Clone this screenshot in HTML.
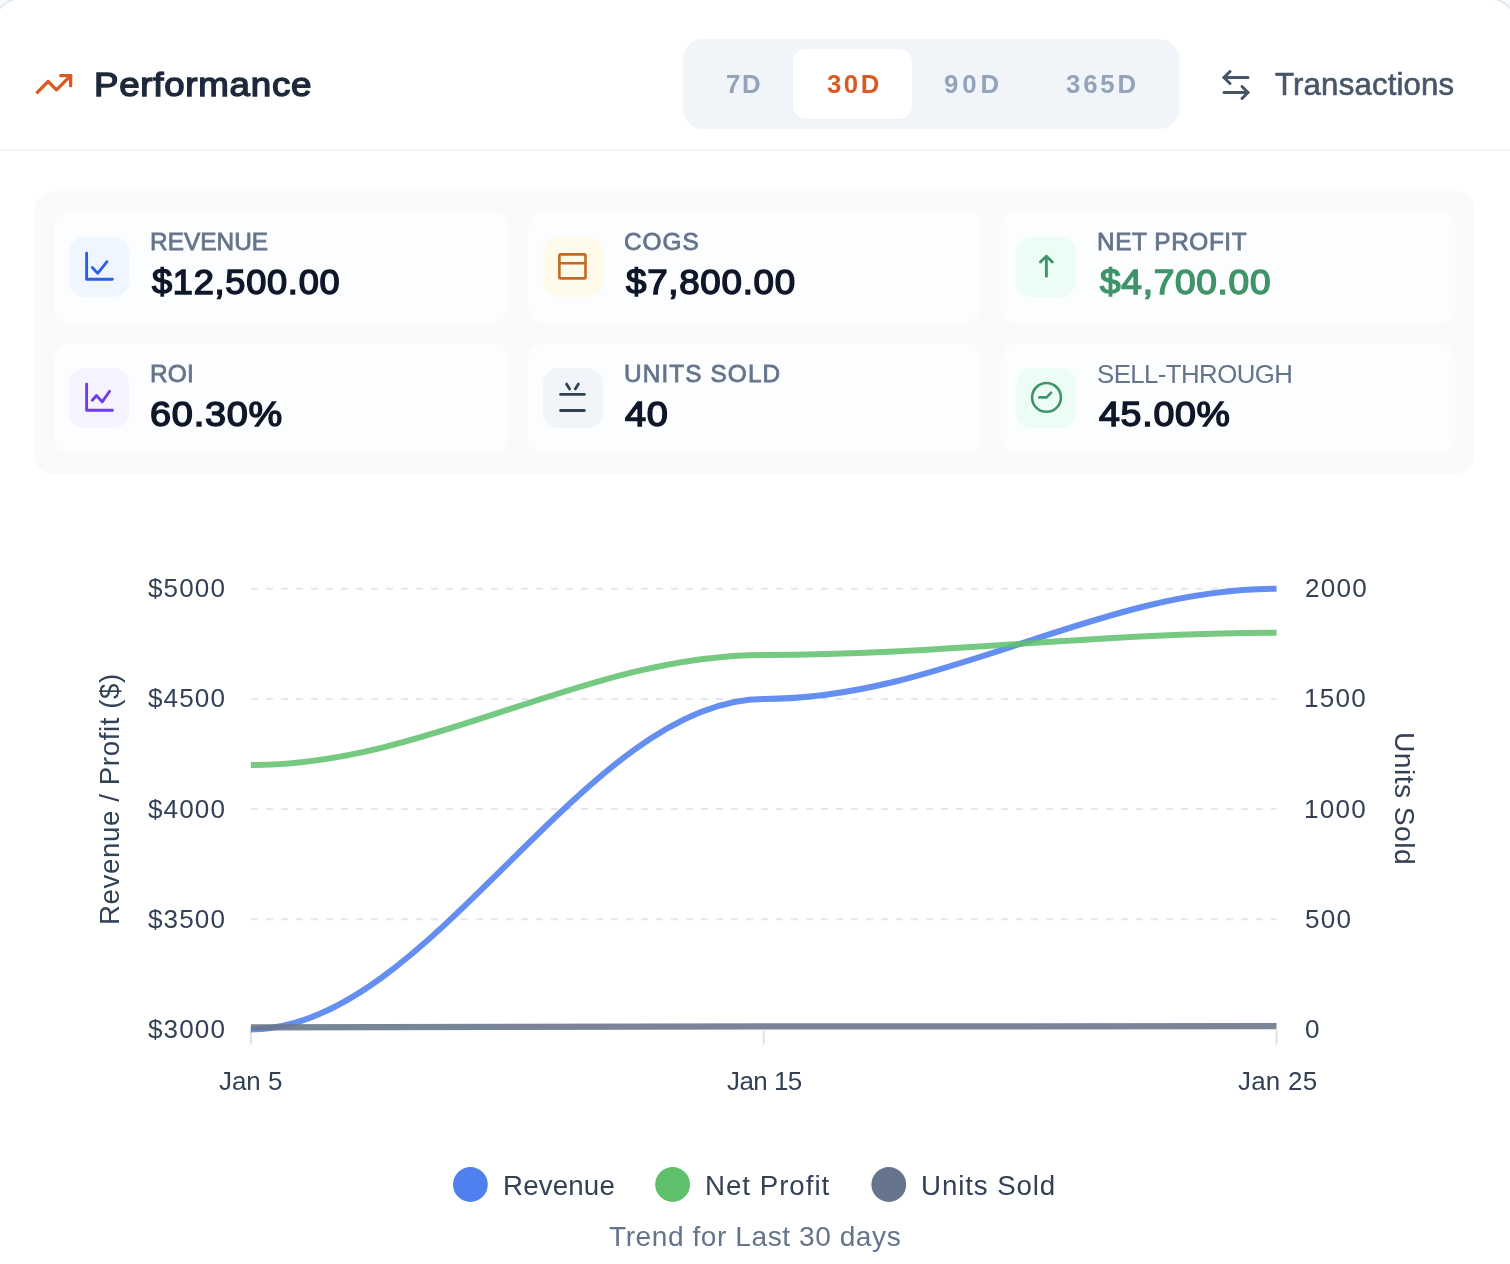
<!DOCTYPE html>
<html><head><meta charset="utf-8"><title>Performance</title><style>
*{box-sizing:border-box;margin:0;padding:0}
html,body{width:1510px;height:1264px;overflow:hidden;background:#f8fafc}
body{position:relative;font-family:"Liberation Sans", sans-serif}
.a{position:absolute}
.t{position:absolute;white-space:nowrap;font-family:"Liberation Sans", sans-serif;will-change:transform}
</style></head><body>
<div class="a" style="left:-9.5px;top:-3px;width:1528px;height:1400px;background:#fff;border:2px solid #e2e8f0;border-radius:32px"></div>
<div class="a" style="left:0;top:149px;width:1510px;height:2px;background:#f1f5f9"></div>
<div class="a" style="left:683px;top:39px;width:496px;height:90px;background:#f1f5f9;border-radius:20px"></div>
<div class="a" style="left:793px;top:49px;width:119px;height:70px;background:#fff;border-radius:13px;box-shadow:0 1px 2px rgba(15,23,42,0.025)"></div>
<svg class="a" style="left:34.3px;top:64.2px" width="40" height="40" viewBox="0 0 24 24" fill="none" stroke="#d95b24" stroke-width="2" stroke-linecap="round" stroke-linejoin="round"><polyline points="22 7 13.5 15.5 8.5 10.5 2 17"/><polyline points="16 7 22 7 22 13"/></svg>
<svg class="a" style="left:1218.3px;top:66.5px" width="36" height="36" viewBox="0 0 24 24" fill="none" stroke="#475569" stroke-width="2" stroke-linecap="round" stroke-linejoin="round"><path d="M8 3 4 7l4 4"/><path d="M4 7h16"/><path d="m16 21 4-4-4-4"/><path d="M20 17H4"/></svg>
<div class="a" style="left:34px;top:191px;width:1441px;height:283px;background:#f8fafc;border-radius:20px"></div>
<div class="a" style="left:54px;top:211px;width:453.67px;height:111.5px;background:#fcfdfe;border-radius:16px"></div>
<div class="a" style="left:69px;top:236.75px;width:60px;height:60px;background:#eff6ff;border-radius:16px"></div>
<svg class="a" style="left:69px;top:236.75px" width="60" height="60" viewBox="0 0 60 60" fill="none" stroke="#2c5fe6" stroke-width="2.85" stroke-linecap="round" stroke-linejoin="round"><path d="M17.6 16.1V42.2H43.4"/><path d="M23.3 30.6 28.7 36.3 38 24.7"/></svg>
<div class="a" style="left:527.67px;top:211px;width:453.67px;height:111.5px;background:#fcfdfe;border-radius:16px"></div>
<div class="a" style="left:542.67px;top:236.75px;width:60px;height:60px;background:#fffbeb;border-radius:16px"></div>
<svg class="a" style="left:542.67px;top:236.75px" width="60" height="60" viewBox="0 0 60 60" fill="none" stroke="#c46a22" stroke-width="2.6" stroke-linecap="round" stroke-linejoin="round"><rect x="16.4" y="17.4" width="26.1" height="24" rx="1.2"/><path d="M16.4 26.3H42.5"/></svg>
<div class="a" style="left:1001.33px;top:211px;width:453.67px;height:111.5px;background:#fcfdfe;border-radius:16px"></div>
<div class="a" style="left:1016.33px;top:236.75px;width:60px;height:60px;background:#ecfdf5;border-radius:16px"></div>
<svg class="a" style="left:1016.33px;top:236.75px" width="60" height="60" viewBox="0 0 60 60" fill="none" stroke="#409469" stroke-width="2.85" stroke-linecap="round" stroke-linejoin="round"><path d="M30.4 39.3V19.6"/><path d="M24.4 25 30.4 19.2 36.3 25"/></svg>
<div class="a" style="left:54px;top:342.5px;width:453.67px;height:111.5px;background:#fcfdfe;border-radius:16px"></div>
<div class="a" style="left:69px;top:368.25px;width:60px;height:60px;background:#f5f3ff;border-radius:16px"></div>
<svg class="a" style="left:69px;top:368.25px" width="60" height="60" viewBox="0 0 60 60" fill="none" stroke="#6f3de8" stroke-width="2.85" stroke-linecap="round" stroke-linejoin="round"><path d="M17.6 16.1V42.2H43.4"/><path d="M23.3 32.3 27.5 27.5 33.2 33.9 40.6 23.3"/></svg>
<div class="a" style="left:527.67px;top:342.5px;width:453.67px;height:111.5px;background:#fcfdfe;border-radius:16px"></div>
<div class="a" style="left:542.67px;top:368.25px;width:60px;height:60px;background:#f1f5f9;border-radius:16px"></div>
<svg class="a" style="left:542.67px;top:368.25px" width="60" height="60" viewBox="0 0 60 60" fill="none" stroke="#334155" stroke-width="2.85" stroke-linecap="round" stroke-linejoin="round"><path d="M17.6 26.4H41.3"/><path d="M17.6 42.5H41.3"/><path d="M23.5 16.1 26.6 20.9"/><path d="M35.4 16.1 32.3 20.9"/></svg>
<div class="a" style="left:1001.33px;top:342.5px;width:453.67px;height:111.5px;background:#fcfdfe;border-radius:16px"></div>
<div class="a" style="left:1016.33px;top:368.25px;width:60px;height:60px;background:#ecfdf5;border-radius:16px"></div>
<svg class="a" style="left:1016.33px;top:368.25px" width="60" height="60" viewBox="0 0 60 60" fill="none" stroke="#409469" stroke-width="2.6" stroke-linecap="round" stroke-linejoin="round"><circle cx="30.5" cy="29.4" r="14.4"/><path d="M23.3 29.4H30.6L35.1 24.7"/></svg>
<svg class="a" style="left:0;top:0" width="1510" height="1264" viewBox="0 0 1510 1264" fill="none"><line x1="251" y1="588.8" x2="1276.5" y2="588.8" stroke="#e2e8f0" stroke-width="2" stroke-dasharray="7 8"/><line x1="251" y1="698.95" x2="1276.5" y2="698.95" stroke="#e2e8f0" stroke-width="2" stroke-dasharray="7 8"/><line x1="251" y1="809.1" x2="1276.5" y2="809.1" stroke="#e2e8f0" stroke-width="2" stroke-dasharray="7 8"/><line x1="251" y1="919.25" x2="1276.5" y2="919.25" stroke="#e2e8f0" stroke-width="2" stroke-dasharray="7 8"/><line x1="250.85" y1="1030.5" x2="250.85" y2="1044.5" stroke="#e0e0e0" stroke-width="2"/><line x1="763.7" y1="1030.5" x2="763.7" y2="1044.5" stroke="#e0e0e0" stroke-width="2"/><line x1="1276.55" y1="1030.5" x2="1276.55" y2="1044.5" stroke="#e0e0e0" stroke-width="2"/><path d="M250.85 1029.4 C430.35 1029.4 584.2 698.95 763.7 698.95 C943.2 698.95 1097.05 588.8 1276.55 588.8" stroke="#4f80ee" stroke-opacity="0.88" stroke-width="6"/><path d="M250.85 765.04 C430.35 765.04 584.2 654.89 763.7 654.89 C943.2 654.89 1097.05 632.86 1276.55 632.86" stroke="#5ec06a" stroke-opacity="0.85" stroke-width="6"/><path d="M250.85 1027.42 C430.35 1027.42 584.2 1026.43 763.7 1026.43 C943.2 1026.43 1097.05 1026.21 1276.55 1026.21" stroke="#6b778c" stroke-opacity="0.9" stroke-width="6.2"/><circle cx="470.4" cy="1184.5" r="17.4" fill="#4f80ee"/><circle cx="672.6" cy="1184.5" r="17.4" fill="#5ec06a"/><circle cx="888.8" cy="1184.5" r="17.4" fill="#67748d"/></svg>
<div class="t" id="tperf" style="left:94.22px;top:67.8px;font-size:33.7px;line-height:33.7px;font-weight:400;-webkit-text-stroke:1.42px #1e293b;letter-spacing:0.67px;color:#1e293b;transform-origin:0 0;transform:scaleX(1.0893)">Performance</div>
<div class="t" id="t7d" style="left:725.5px;top:72px;font-size:25.8px;line-height:25.8px;font-weight:700;letter-spacing:1.7px;color:#94a3b8">7D</div>
<div class="t" id="t30d" style="left:826.7px;top:72px;font-size:25.8px;line-height:25.8px;font-weight:700;letter-spacing:2.5px;color:#d95b24">30D</div>
<div class="t" id="t90d" style="left:944px;top:72px;font-size:25.8px;line-height:25.8px;font-weight:700;letter-spacing:3.9px;color:#94a3b8">90D</div>
<div class="t" id="t365d" style="left:1065.6px;top:72px;font-size:25.8px;line-height:25.8px;font-weight:700;letter-spacing:2.83px;color:#94a3b8">365D</div>
<div class="t" id="ttrans" style="left:1275px;top:68.7px;font-size:31.16px;line-height:31.16px;font-weight:400;-webkit-text-stroke:0.6px #475569;letter-spacing:0.18px;color:#475569">Transactions</div>
<div class="t" id="tl0" style="left:150px;top:230.3px;font-size:24.38px;line-height:24.38px;font-weight:400;-webkit-text-stroke:0.78px #64748b;letter-spacing:0.03px;color:#64748b">REVENUE</div>
<div class="t" id="tv0" style="left:152.35px;top:265.4px;font-size:34.52px;line-height:34.52px;font-weight:400;-webkit-text-stroke:1.45px #0f172a;letter-spacing:0.69px;color:#0f172a;transform-origin:0 0;transform:scaleX(1.0483)">$12,500.00</div>
<div class="t" id="tl1" style="left:623.67px;top:230.3px;font-size:24.38px;line-height:24.38px;font-weight:400;-webkit-text-stroke:0.78px #64748b;letter-spacing:1px;color:#64748b">COGS</div>
<div class="t" id="tv1" style="left:626.03px;top:265.4px;font-size:34.52px;line-height:34.52px;font-weight:400;-webkit-text-stroke:1.45px #0f172a;letter-spacing:0.69px;color:#0f172a;transform-origin:0 0;transform:scaleX(1.0631)">$7,800.00</div>
<div class="t" id="tl2" style="left:1097.33px;top:230.3px;font-size:24.38px;line-height:24.38px;font-weight:400;-webkit-text-stroke:0.78px #64748b;letter-spacing:0.57px;color:#64748b">NET PROFIT</div>
<div class="t" id="tv2" style="left:1099.7px;top:265.4px;font-size:34.52px;line-height:34.52px;font-weight:400;-webkit-text-stroke:1.45px #3f9468;letter-spacing:0.69px;color:#3f9468;transform-origin:0 0;transform:scaleX(1.0719)">$4,700.00</div>
<div class="t" id="tl3" style="left:150px;top:361.8px;font-size:24.38px;line-height:24.38px;font-weight:400;-webkit-text-stroke:0.78px #64748b;letter-spacing:0.2px;color:#64748b">ROI</div>
<div class="t" id="tv3" style="left:150.2px;top:396.9px;font-size:34.52px;line-height:34.52px;font-weight:400;-webkit-text-stroke:1.45px #0f172a;letter-spacing:0.69px;color:#0f172a;transform-origin:0 0;transform:scaleX(1.0975)">60.30%</div>
<div class="t" id="tl4" style="left:623.67px;top:361.8px;font-size:24.38px;line-height:24.38px;font-weight:400;-webkit-text-stroke:0.78px #64748b;letter-spacing:1.1px;color:#64748b">UNITS SOLD</div>
<div class="t" id="tv4" style="left:624.97px;top:396.9px;font-size:34.52px;line-height:34.52px;font-weight:400;-webkit-text-stroke:1.45px #0f172a;letter-spacing:0.69px;color:#0f172a;transform-origin:0 0;transform:scaleX(1.1)">40</div>
<div class="t" id="tl5" style="left:1097.33px;top:361.8px;font-size:25.8px;line-height:25.8px;font-weight:400;letter-spacing:-0.57px;color:#64748b">SELL-THROUGH</div>
<div class="t" id="tv5" style="left:1098.63px;top:396.9px;font-size:34.52px;line-height:34.52px;font-weight:400;-webkit-text-stroke:1.45px #0f172a;letter-spacing:0.69px;color:#0f172a;transform-origin:0 0;transform:scaleX(1.0867)">45.00%</div>
<div class="t" id="ty0" style="left:148.3px;top:575.2px;font-size:26.09px;line-height:26.09px;font-weight:400;letter-spacing:1.1px;color:#334155">$5000</div>
<div class="t" id="tr0" style="left:1304.9px;top:575.2px;font-size:26.09px;line-height:26.09px;font-weight:400;letter-spacing:1.23px;color:#334155">2000</div>
<div class="t" id="ty1" style="left:148.3px;top:685.35px;font-size:26.09px;line-height:26.09px;font-weight:400;letter-spacing:1.1px;color:#334155">$4500</div>
<div class="t" id="tr1" style="left:1303.9px;top:685.35px;font-size:26.09px;line-height:26.09px;font-weight:400;letter-spacing:1.23px;color:#334155">1500</div>
<div class="t" id="ty2" style="left:148.3px;top:795.5px;font-size:26.09px;line-height:26.09px;font-weight:400;letter-spacing:1.1px;color:#334155">$4000</div>
<div class="t" id="tr2" style="left:1303.9px;top:795.5px;font-size:26.09px;line-height:26.09px;font-weight:400;letter-spacing:1.23px;color:#334155">1000</div>
<div class="t" id="ty3" style="left:148.3px;top:905.65px;font-size:26.09px;line-height:26.09px;font-weight:400;letter-spacing:1.1px;color:#334155">$3500</div>
<div class="t" id="tr3" style="left:1304.9px;top:905.65px;font-size:26.09px;line-height:26.09px;font-weight:400;letter-spacing:1.23px;color:#334155">500</div>
<div class="t" id="ty4" style="left:148.3px;top:1015.8px;font-size:26.09px;line-height:26.09px;font-weight:400;letter-spacing:1.1px;color:#334155">$3000</div>
<div class="t" id="tr4" style="left:1304.9px;top:1015.8px;font-size:26.09px;line-height:26.09px;font-weight:400;letter-spacing:1.23px;color:#334155">0</div>
<div class="t" id="tx0" style="left:219.35px;top:1069.1px;font-size:25.94px;line-height:25.94px;font-weight:400;letter-spacing:-0.03px;color:#334155">Jan 5</div>
<div class="t" id="tx1" style="left:726.7px;top:1069.1px;font-size:25.94px;line-height:25.94px;font-weight:400;letter-spacing:-0.52px;color:#334155">Jan 15</div>
<div class="t" id="tx2" style="left:1237.55px;top:1069.1px;font-size:25.94px;line-height:25.94px;font-weight:400;letter-spacing:0.24px;color:#334155">Jan 25</div>
<div class="t" id="tleg0" style="left:502.8px;top:1171.9px;font-size:27.68px;line-height:27.68px;font-weight:400;letter-spacing:0.17px;color:#334155">Revenue</div>
<div class="t" id="tleg1" style="left:704.9px;top:1171.9px;font-size:27.68px;line-height:27.68px;font-weight:400;letter-spacing:0.99px;color:#334155">Net Profit</div>
<div class="t" id="tleg2" style="left:921px;top:1171.9px;font-size:27.68px;line-height:27.68px;font-weight:400;letter-spacing:0.9px;color:#334155">Units Sold</div>
<div class="t" id="tcap" style="left:609px;top:1223.7px;font-size:26.96px;line-height:26.96px;font-weight:400;letter-spacing:0.54px;color:#64748b;transform-origin:0 0;transform:scaleX(1.0416)">Trend for Last 30 days</div>
<div class="t" style="left:95.9px;top:925.4px;font-size:27.69px;line-height:27.69px;letter-spacing:0.59px;color:#334155;transform-origin:0 0;transform:rotate(-90deg)">Revenue / Profit ($)</div>
<div class="t" style="left:1418.7px;top:732.2px;font-size:28.34px;line-height:28.34px;letter-spacing:0.4px;color:#334155;transform-origin:0 0;transform:rotate(90deg)">Units Sold</div>
</body></html>
